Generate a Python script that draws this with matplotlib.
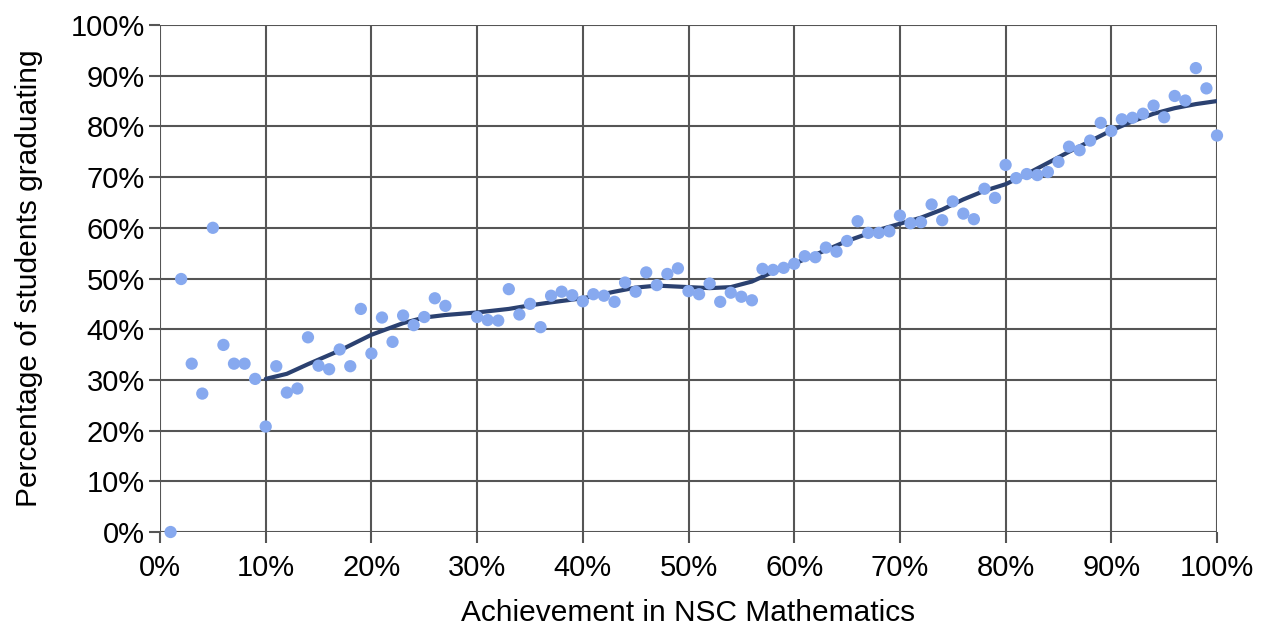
import numpy as np
import matplotlib
matplotlib.use("Agg")
import matplotlib.pyplot as plt
from matplotlib.ticker import MultipleLocator, FuncFormatter

plt.rcParams['font.family'] = ['Liberation Sans', 'DejaVu Sans']

# achievement in NSC maths (%) and share of students graduating (%)
achievement = [1, 2, 3, 4, 5, 6, 7, 8, 9, 10,
               11, 12, 13, 14, 15, 16, 17, 18, 19, 20,
               21, 22, 23, 24, 25, 26, 27, 30,
               31, 32, 33, 34, 35, 36, 37, 38, 39, 40,
               41, 42, 43, 44, 45, 46, 47, 48, 49, 50,
               51, 52, 53, 54, 55, 56, 57, 58, 59, 60,
               61, 62, 63, 64, 65, 66, 67, 68, 69, 70,
               71, 72, 73, 74, 75, 76, 77, 78, 79, 80,
               81, 82, 83, 84, 85, 86, 87, 88, 89, 90,
               91, 92, 93, 94, 95, 96, 97, 98, 99, 100]
graduating = [0.0, 49.9, 33.2, 27.3, 60.0, 36.9, 33.2, 33.2, 30.2, 20.8,
              32.7, 27.5, 28.3, 38.4, 32.8, 32.1, 36.0, 32.7, 44.0, 35.2,
              42.3, 37.5, 42.7, 40.8, 42.4, 46.1, 44.6, 42.4,
              41.8, 41.7, 47.9, 42.9, 45.0, 40.4, 46.6, 47.4, 46.7, 45.5,
              46.9, 46.6, 45.4, 49.2, 47.4, 51.2, 48.7, 50.9, 52.0, 47.5,
              46.9, 49.0, 45.4, 47.2, 46.4, 45.7, 51.9, 51.7, 52.1, 52.9,
              54.4, 54.2, 56.1, 55.3, 57.4, 61.3, 59.0, 59.0, 59.3, 62.4,
              60.9, 61.1, 64.6, 61.5, 65.2, 62.8, 61.7, 67.7, 65.9, 72.4,
              69.8, 70.6, 70.4, 71.0, 73.0, 76.0, 75.3, 77.2, 80.7, 79.1,
              81.4, 81.7, 82.5, 84.1, 81.8, 86.0, 85.1, 91.5, 87.5, 78.2]

# smoothed trend line
trend_x = [10, 12, 14, 17, 20, 23, 25, 27, 30, 33, 35, 37, 40, 43, 45, 47,
           50, 52, 54, 56, 58, 60, 62, 65, 68, 70, 72, 74, 76, 78, 80,
           82, 84, 86, 88, 90, 92, 94, 96, 98, 100]
trend_y = [30.2, 31.2, 33.1, 35.8, 38.9, 41.2, 42.3, 42.8, 43.3, 44.0, 44.7,
           45.3, 46.1, 47.4, 48.2, 48.6, 48.3, 48.1, 48.3, 49.4, 51.3, 52.9,
           54.7, 57.4, 59.6, 60.8, 62.0, 63.6, 65.6, 67.3, 68.6, 70.6, 72.8,
           75.0, 77.1, 79.2, 81.0, 82.5, 83.6, 84.4, 85.0]

fig = plt.figure(figsize=(12.72, 6.33), dpi=100)
ax = fig.add_axes([160 / 1272, 1 - 532 / 633, 1057 / 1272, 507 / 633])

ax.plot(trend_x, trend_y, color='#2b4170', lw=3, zorder=3,
        solid_capstyle='round', solid_joinstyle='round')
ax.scatter(achievement, graduating, s=78, color='#87a9ef', edgecolors='none',
           zorder=4, clip_on=False)

ax.set_xlim(0, 100)
ax.set_ylim(0, 100)
ax.xaxis.set_major_locator(MultipleLocator(10))
ax.yaxis.set_major_locator(MultipleLocator(10))
pct = FuncFormatter(lambda v, p: '%d%%' % v)
ax.xaxis.set_major_formatter(pct)
ax.yaxis.set_major_formatter(pct)

ax.grid(True, color='#555555', lw=1.5)
ax.set_axisbelow(True)
for s in ['top', 'right', 'bottom', 'left']:
    ax.spines[s].set_visible(False)
ax.tick_params(axis='both', length=8, width=1.5, color='#555555',
               labelsize=21)
ax.tick_params(axis='x', pad=8)
ax.tick_params(axis='y', pad=3)

ax.set_xlabel('Achievement in NSC Mathematics', fontsize=21.5, labelpad=12)
ax.set_ylabel('Percentage of students graduating', fontsize=21.5, labelpad=20)

fig.savefig('out.png', dpi=100)
